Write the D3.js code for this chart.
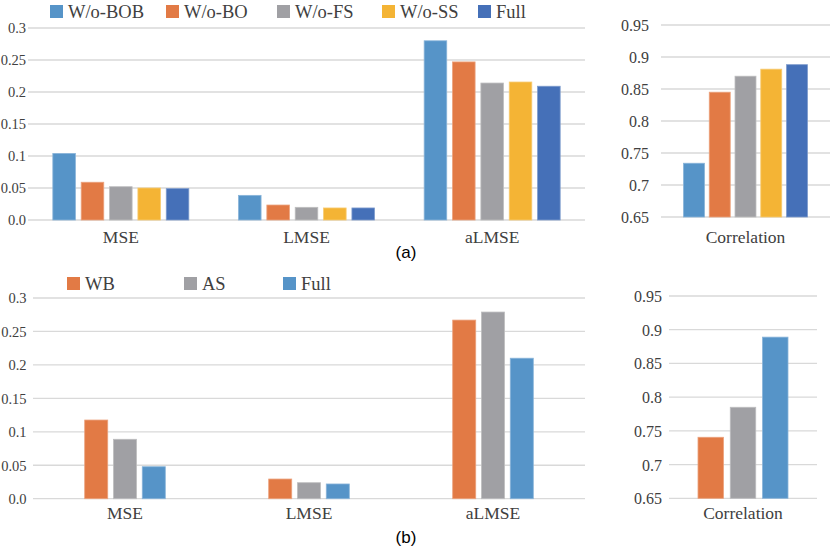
<!DOCTYPE html>
<html><head><meta charset="utf-8">
<script src="https://cdn.jsdelivr.net/npm/d3@7"></script>
<style>
html,body{margin:0;padding:0;background:#fff;}
svg{display:block;}
text.serif{font-family:"Liberation Serif","Times New Roman",serif;fill:#404040;}
text.sans{font-family:"Liberation Sans",Arial,sans-serif;fill:#000;}
</style></head>
<body>
<svg id="chart" width="830" height="548"></svg>
<script>
// ---------- data ----------
const metrics = ["MSE", "LMSE", "aLMSE"];
const seriesA = ["W/o-BOB", "W/o-BO", "W/o-FS", "W/o-SS", "Full"];
const colorsA = ["#5694C8", "#E27A45", "#A0A0A4", "#F4B435", "#4570B8"];
const mseA   = [0.104, 0.059, 0.052, 0.050, 0.049];
const lmseA  = [0.0385, 0.0234, 0.0198, 0.0188, 0.0188];
const almseA = [0.280, 0.247, 0.214, 0.2156, 0.209];
const corrA  = [0.734, 0.845, 0.870, 0.881, 0.888];

const seriesB = ["WB", "AS", "Full"];
const colorsB = ["#E27A45", "#A0A0A4", "#5694C8"];
const mseB   = [0.1176, 0.0888, 0.0478];
const lmseB  = [0.0294, 0.0239, 0.022];
const almseB = [0.267, 0.279, 0.210];
const corrB  = [0.7405, 0.785, 0.889];

const errTicks  = [0, 0.05, 0.1, 0.15, 0.2, 0.25, 0.3];
const errTickLabels = ["0.0", "0.05", "0.1", "0.15", "0.2", "0.25", "0.3"];
const corrTicks = [0.65, 0.7, 0.75, 0.8, 0.85, 0.9, 0.95];
const corrTickLabels = ["0.65", "0.7", "0.75", "0.8", "0.85", "0.9", "0.95"];

// ---------- drawing ----------
const svg = d3.select("#chart");

function lighter(c){ return d3.interpolateRgb(c, "#ffffff")(0.3); }

function panel(opt){
  const g = svg.append("g");
  const x = d3.scaleBand().domain(opt.categories).range(opt.xRange).padding(0);
  const y = d3.scaleLinear().domain(opt.yDomain).range(opt.yRange);
  // gridlines
  g.selectAll("line.grid").data(opt.ticks).join("line")
    .attr("x1", opt.xRange[0]).attr("x2", opt.xRange[1])
    .attr("y1", d => y(d)).attr("y2", d => y(d))
    .attr("stroke", "#D9D9D9").attr("stroke-width", 1.3);
  // y axis labels
  const yAxis = d3.axisLeft(y).tickValues(opt.ticks)
    .tickFormat((d,i) => opt.tickLabels[i]).tickSize(0).tickPadding(0);
  const ya = g.append("g").attr("transform", `translate(${opt.tickX},0)`).call(yAxis);
  ya.select(".domain").remove();
  ya.selectAll("text").attr("class", "serif")
    .style("font-size", opt.tickSize + "px").attr("dy", "0.34em");
  // x axis labels
  const xAxis = d3.axisBottom(x).tickSize(0).tickPadding(0);
  const xa = g.append("g").attr("transform", `translate(0,${opt.labelY})`).call(xAxis);
  xa.select(".domain").remove();
  xa.selectAll("text").attr("class", "serif").style("font-size", "17.5px");
  // bars
  const inner = d3.scaleBand().domain(opt.series)
    .range([(x.bandwidth() - opt.groupW) / 2, (x.bandwidth() + opt.groupW) / 2])
    .paddingInner(opt.pad).paddingOuter(0);
  opt.categories.forEach((cat, ci) => {
    const vals = opt.values[ci];
    g.append("g").attr("transform", `translate(${x(cat)},0)`)
      .selectAll("rect").data(vals).join("rect")
      .attr("x", (d,i) => inner(opt.series[i]))
      .attr("width", inner.bandwidth())
      .attr("y", d => y(d))
      .attr("height", d => y(opt.yDomain[0]) - y(d))
      .attr("fill", (d,i) => opt.colors[i])
      .attr("stroke", (d,i) => lighter(opt.colors[i]))
      .attr("stroke-width", 0.8);
  });
}

// (a) error metrics
panel({categories: metrics, series: seriesA, colors: colorsA,
  values: [mseA, lmseA, almseA], ticks: errTicks, tickLabels: errTickLabels,
  xRange: [28, 585], yDomain: [0, 0.3], yRange: [220, 28], tickX: 26, tickSize: 14.5,
  labelY: 231, groupW: 136, pad: 0.204});
// (a) correlation
panel({categories: ["Correlation"], series: seriesA, colors: colorsA,
  values: [corrA], ticks: corrTicks, tickLabels: corrTickLabels,
  xRange: [661, 830], yDomain: [0.65, 0.95], yRange: [217, 25], tickX: 649, tickSize: 16,
  labelY: 231, groupW: 124, pad: 0.186});
// (b) error metrics
panel({categories: metrics, series: seriesB, colors: colorsB,
  values: [mseB, lmseB, almseB], ticks: errTicks, tickLabels: errTickLabels,
  xRange: [33, 585], yDomain: [0, 0.3], yRange: [498.7, 298], tickX: 26.5, tickSize: 14.5,
  labelY: 507, groupW: 80.6, pad: 0.2});
// (b) correlation
panel({categories: ["Correlation"], series: seriesB, colors: colorsB,
  values: [corrB], ticks: corrTicks, tickLabels: corrTickLabels,
  xRange: [669, 817], yDomain: [0.65, 0.95], yRange: [498.3, 296], tickX: 662, tickSize: 16,
  labelY: 507, groupW: 90, pad: 0.21});

// legends
function legend(series, colors, xs, y){
  const lg = svg.append("g");
  series.forEach((s, i) => {
    lg.append("rect").attr("x", xs[i]).attr("y", y).attr("width", 13).attr("height", 13)
      .attr("fill", colors[i]);
    lg.append("text").attr("class", "serif").attr("x", xs[i] + 18).attr("y", y + 12.5)
      .style("font-size", "18.5px").text(s);
  });
}
legend(seriesA, colorsA, [50, 166, 277, 382, 478], 5);
legend(seriesB, colorsB, [67, 184, 283], 277);

// panel captions
svg.append("text").attr("class", "sans").attr("x", 406).attr("y", 258)
  .attr("text-anchor", "middle").style("font-size", "17px").text("(a)");
svg.append("text").attr("class", "sans").attr("x", 406).attr("y", 543)
  .attr("text-anchor", "middle").style("font-size", "17px").text("(b)");
</script>
</body></html>
